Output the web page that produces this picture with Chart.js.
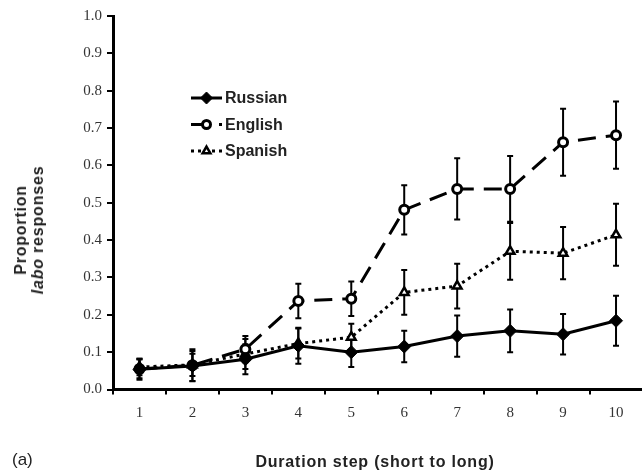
<!DOCTYPE html>
<html>
<head>
<meta charset="utf-8">
<script src="https://cdn.jsdelivr.net/npm/chart.js@4/dist/chart.umd.min.js"></script>
<style>
  html, body { margin: 0; padding: 0; background: #fff; overflow: hidden; }
  #wrap { position: relative; width: 642px; height: 472px; overflow: hidden; }
  canvas { position: absolute; left: 0; top: 0; }
  .lbl { position: absolute; font-family: "Liberation Sans", Arial, sans-serif; color: #222; white-space: nowrap; }
  #ytitle { left: 29px; top: 230px; transform: translate(-50%, -50%) rotate(-90deg); font-size: 16px; font-weight: bold; letter-spacing: 0.8px; text-align: center; line-height: 17px; }
  #xtitle { left: 375px; top: 462px; transform: translate(-50%, -50%); font-size: 16px; font-weight: bold; letter-spacing: 0.8px; }
  #panel { left: 12px; top: 460px; transform: translateY(-50%); font-size: 17px; }
</style>
</head>
<body>
<div id="wrap">
  <canvas id="graphique" width="650" height="472"></canvas>
  <div class="lbl" id="ytitle">Proportion<br><i>labo</i> responses</div>
  <div class="lbl" id="xtitle">Duration step (short to long)</div>
  <div class="lbl" id="panel">(a)</div>
</div>
<script>
const etapes = ['1', '2', '3', '4', '5', '6', '7', '8', '9', '10'];

const russe = [0.054, 0.063, 0.081, 0.117, 0.100, 0.115, 0.143, 0.157, 0.148, 0.184];
const russeErr = [0.028, 0.040, 0.040, 0.048, 0.040, 0.042, 0.055, 0.057, 0.054, 0.067];

const anglais = [0.055, 0.065, 0.108, 0.237, 0.243, 0.481, 0.537, 0.537, 0.662, 0.681];
const anglaisErr = [0.025, 0.043, 0.035, 0.046, 0.046, 0.066, 0.082, 0.088, 0.090, 0.090];

const espagnol = [0.060, 0.066, 0.095, 0.123, 0.140, 0.260, 0.277, 0.370, 0.365, 0.414];
const espagnolErr = [0.022, 0.030, 0.040, 0.040, 0.036, 0.060, 0.060, 0.076, 0.070, 0.083];

// barres d'erreur dessinées sous les marqueurs
const barresErreur = {
    id: 'barresErreur',
    beforeDatasetsDraw(chart) {
        const ctx = chart.ctx;
        const y = chart.scales.y;
        chart.data.datasets.forEach((ds, i) => {
            const meta = chart.getDatasetMeta(i);
            ctx.save();
            ctx.strokeStyle = '#000';
            ctx.lineWidth = 2;
            ctx.setLineDash([]);
            meta.data.forEach((pt, j) => {
                const haut = y.getPixelForValue(ds.data[j] + ds.erreurs[j]);
                const bas = y.getPixelForValue(ds.data[j] - ds.erreurs[j]);
                ctx.beginPath();
                ctx.moveTo(pt.x, haut); ctx.lineTo(pt.x, bas);
                ctx.moveTo(pt.x - 3, haut); ctx.lineTo(pt.x + 3, haut);
                ctx.moveTo(pt.x - 3, bas); ctx.lineTo(pt.x + 3, bas);
                ctx.stroke();
            });
            ctx.restore();
        });
    }
};

// légende ligne + marqueur
const legende = {
    id: 'legende',
    afterDraw(chart) {
        const ctx = chart.ctx;
        const x0 = 191, x1 = 222, y0 = 98, pas = 26.5;
        chart.data.datasets.forEach((ds, i) => {
            const yy = y0 + i * pas;
            ctx.save();
            ctx.strokeStyle = '#000';
            ctx.lineWidth = ds.borderWidth;
            ctx.setLineDash(ds.borderDash || []);
            ctx.beginPath();
            ctx.moveTo(x0, yy); ctx.lineTo(x1, yy);
            ctx.stroke();
            ctx.setLineDash([]);
            ctx.fillStyle = ds.pointBackgroundColor;
            ctx.strokeStyle = '#000';
            ctx.lineWidth = ds.pointBorderWidth;
            Chart.helpers.drawPoint(ctx, { pointStyle: ds.pointStyle, radius: ds.pointRadius - 0.5, borderWidth: ds.pointBorderWidth, rotation: 0 }, (x0 + x1) / 2, yy);
            ctx.fillStyle = '#222';
            ctx.font = 'bold 16px "Liberation Sans", Arial, sans-serif';
            ctx.textBaseline = 'middle';
            ctx.fillText(ds.label, x1 + 3, yy + 1);
            ctx.restore();
        });
    }
};

const policeGraduations = { family: '"Liberation Serif", "Times New Roman", serif', size: 15 };

new Chart(document.getElementById('graphique'), {
    type: 'line',
    data: {
        labels: etapes,
        datasets: [
            { label: 'Russian', data: russe, erreurs: russeErr, borderColor: '#000', borderWidth: 3,
              pointStyle: 'rectRot', pointRadius: 6.5, pointBackgroundColor: '#000', pointBorderColor: '#000', pointBorderWidth: 1 },
            { label: 'English', data: anglais, erreurs: anglaisErr, borderColor: '#000', borderWidth: 3, borderDash: [18, 10],
              pointStyle: 'circle', pointRadius: 4.5, pointBackgroundColor: '#fff', pointBorderColor: '#000', pointBorderWidth: 3 },
            { label: 'Spanish', data: espagnol, erreurs: espagnolErr, borderColor: '#000', borderWidth: 3, borderDash: [3, 4],
              pointStyle: 'triangle', pointRadius: 5, pointBackgroundColor: '#fff', pointBorderColor: '#000', pointBorderWidth: 2.5 }
        ]
    },
    options: {
        responsive: false,
        animation: false,
        devicePixelRatio: 1,
        layout: { padding: { top: 16, right: 2, left: 0, bottom: 0 } },
        plugins: { legend: { display: false }, tooltip: { enabled: false } },
        scales: {
            x: {
                offset: true,
                grid: { offset: true, drawOnChartArea: false, color: '#000', lineWidth: 2, tickLength: 5 },
                border: { color: '#000', width: 3 },
                ticks: { color: '#333', padding: 10, font: policeGraduations },
                afterFit(s) { s.height = 82.5; }
            },
            y: {
                min: 0, max: 1,
                ticks: { stepSize: 0.1, color: '#333', padding: 5, callback: v => v.toFixed(1), font: policeGraduations },
                grid: { drawOnChartArea: false, color: '#000', lineWidth: 2, tickLength: 6 },
                border: { color: '#000', width: 3 },
                afterFit(s) { s.width = 113; }
            }
        }
    },
    plugins: [barresErreur, legende]
});
</script>
</body>
</html>
